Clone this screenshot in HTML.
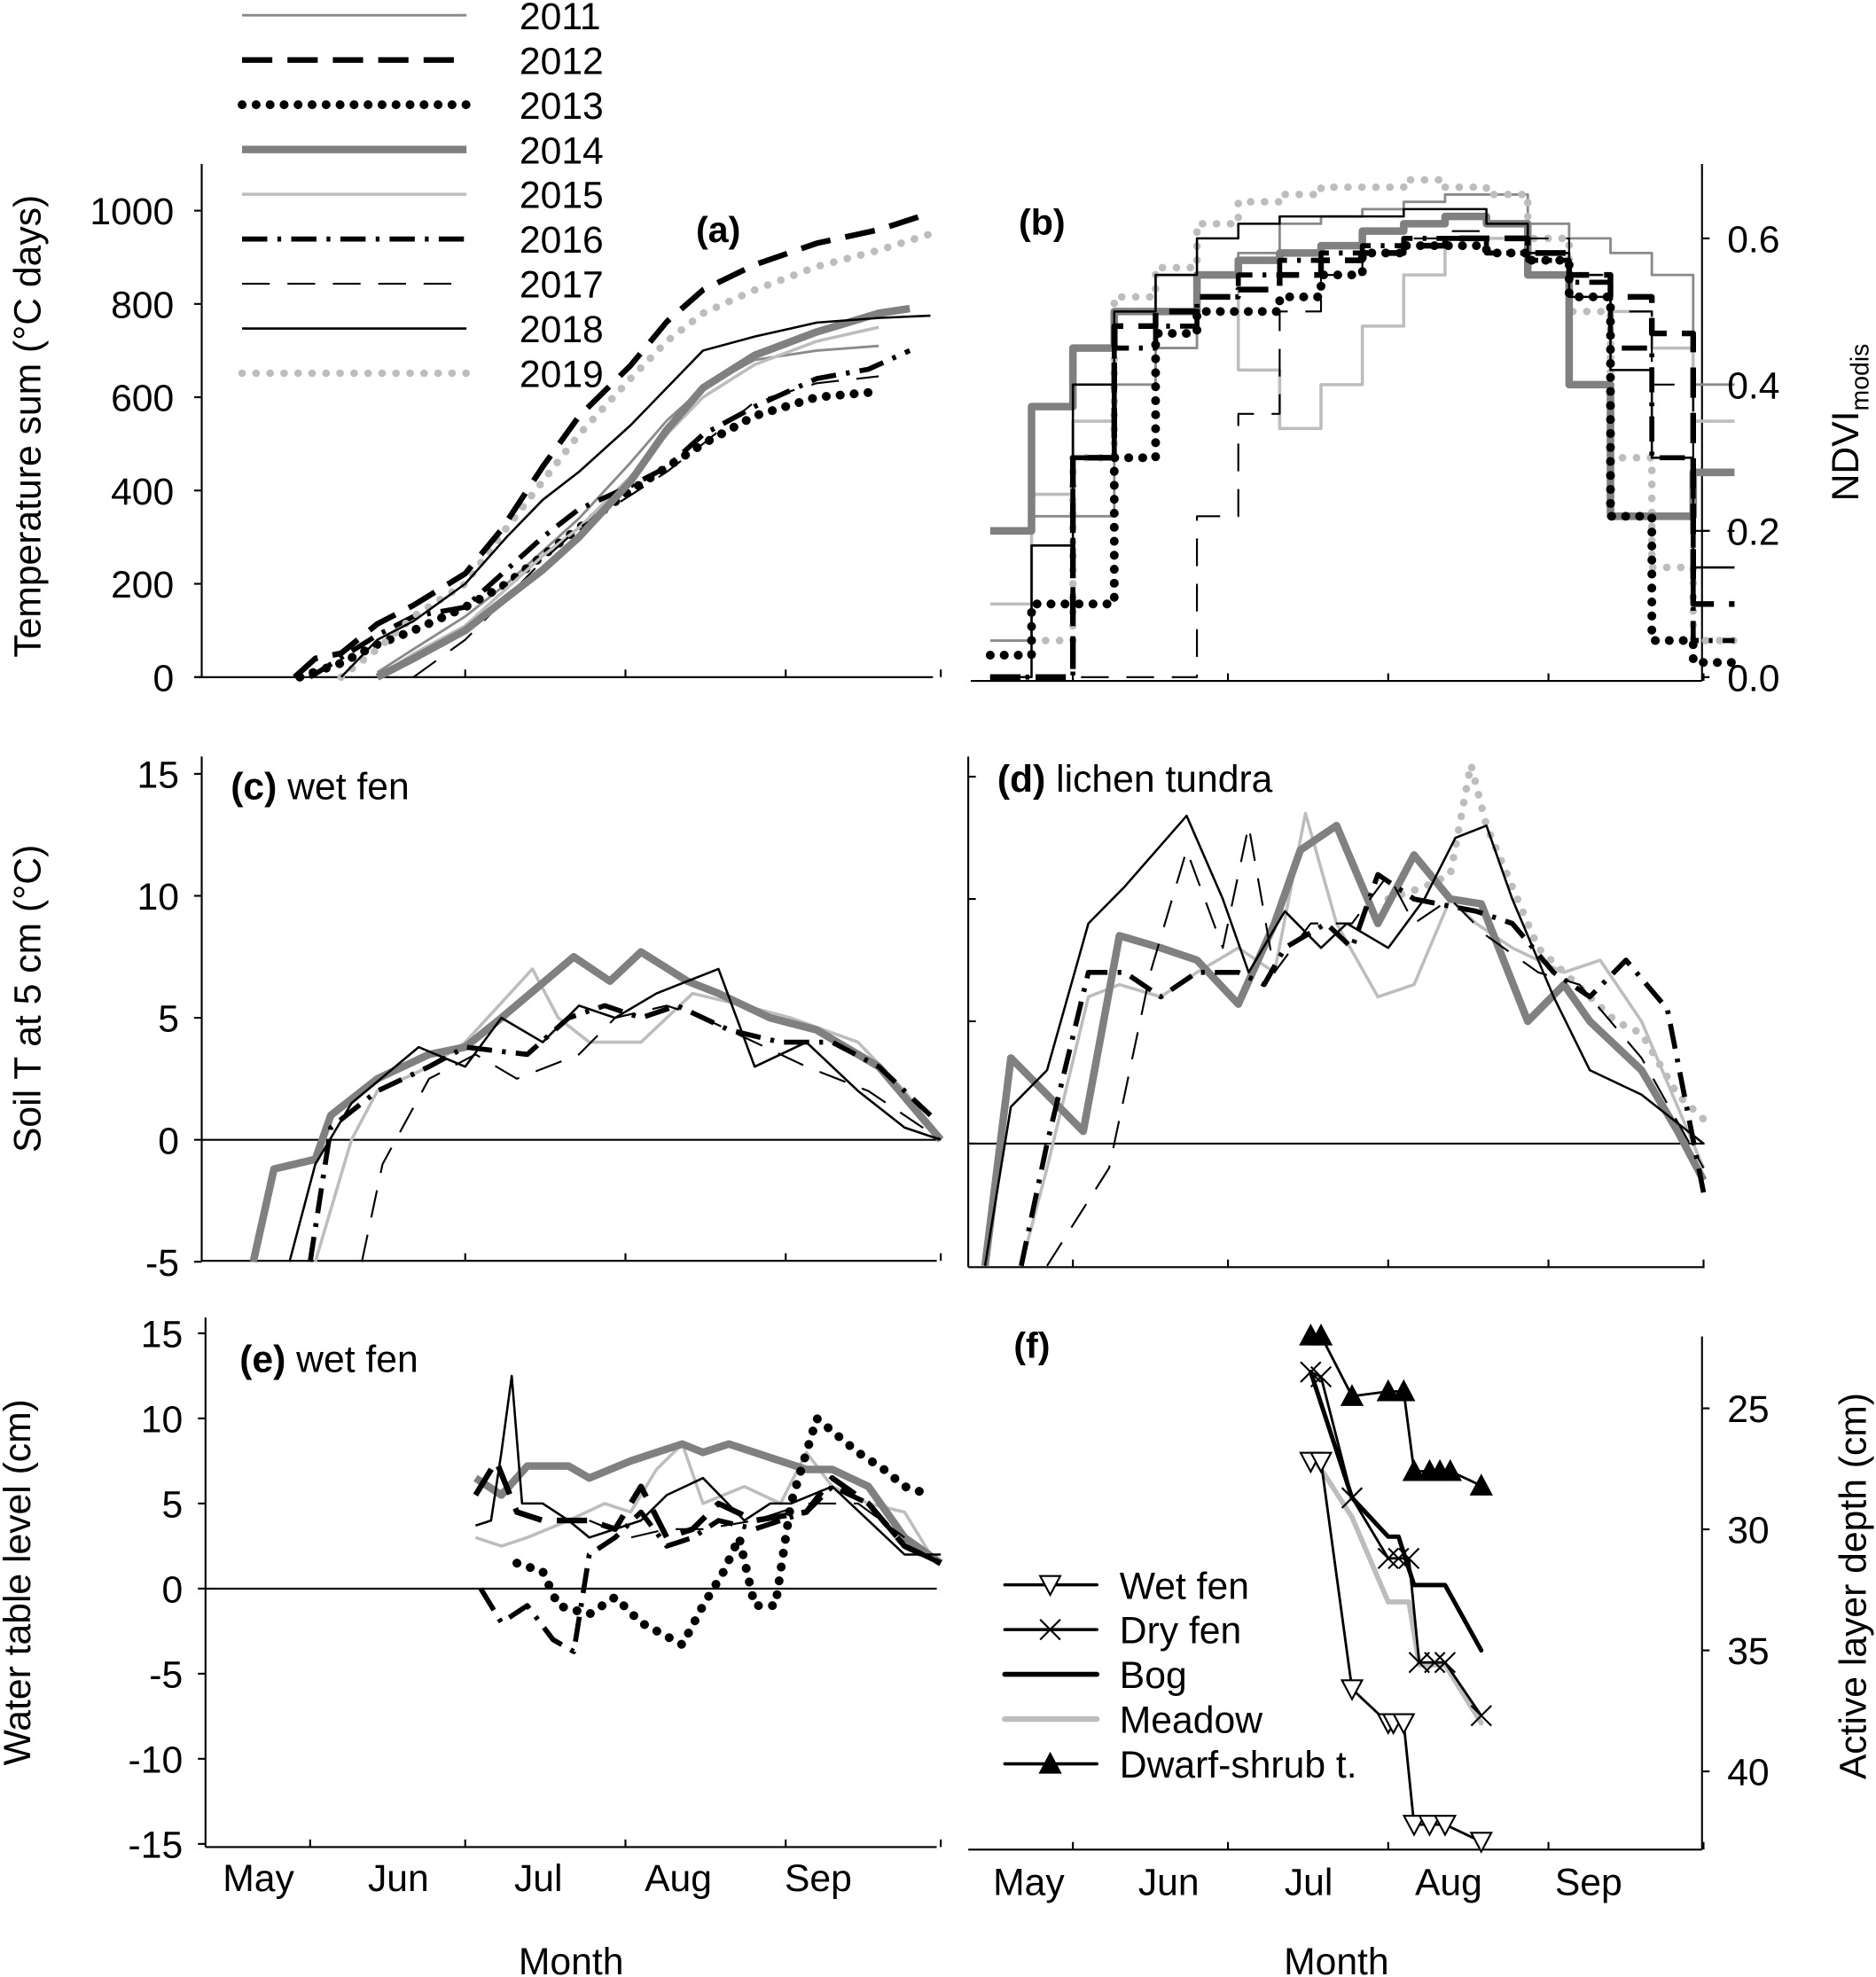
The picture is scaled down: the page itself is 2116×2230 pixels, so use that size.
<!DOCTYPE html>
<html><head><meta charset="utf-8"><style>
html,body{margin:0;padding:0;background:#fff}
svg{display:block}
text{font-family:"Liberation Sans",Arial,sans-serif;fill:#000}
</style></head><body>
<svg id="chart" width="2116" height="2230" viewBox="0 0 1488 1568" xmlns="http://www.w3.org/2000/svg">
<rect width="1488" height="1568" fill="#fff"/>
<g id="axes" stroke="#000" stroke-width="1.5" fill="none"></g>
<g id="series"></g>
<g id="labels" font-size="30">
<text x="552" y="192" font-weight="bold" font-size="29">(a)</text>
<text x="808" y="186" font-weight="bold" font-size="29">(b)</text>
<text x="183" y="634"><tspan font-weight="bold">(c)</tspan> wet fen</text>
<text x="791" y="628"><tspan font-weight="bold">(d)</tspan> lichen tundra</text>
<text x="190" y="1088"><tspan font-weight="bold">(e)</tspan> wet fen</text>
<text x="804" y="1077" font-weight="bold" font-size="29">(f)</text>
<text transform="translate(32,338) rotate(-90)" text-anchor="middle">Temperature sum (°C days)</text>
<text transform="translate(1474,335) rotate(-90)" text-anchor="middle">NDVI<tspan font-size="20" dy="8">modis</tspan></text>
<text transform="translate(32,792) rotate(-90)" text-anchor="middle">Soil T at 5 cm (°C)</text>
<text transform="translate(24,1255) rotate(-90)" text-anchor="middle">Water table level (cm)</text>
<text transform="translate(1480,1258) rotate(-90)" text-anchor="middle">Active layer depth (cm)</text>
<text x="453" y="1566" text-anchor="middle">Month</text>
<text x="1060" y="1566" text-anchor="middle">Month</text>
</g>
</svg>
<script>
// ---------- data ----------
const monthLabels=["May","Jun","Jul","Aug","Sep"];
const monthStartDays=[121,152,182,213,244,274];
const yearNames=["2011","2012","2013","2014","2015","2016","2017","2018","2019"];
const ticksA=[0,200,400,600,800,1000];
const ticksB=[0.0,0.2,0.4,0.6];
const ticksC=[-5,0,5,10,15];
const ticksE=[-15,-10,-5,0,5,10,15];
const ticksF=[25,30,35,40];
// panel a temperature sums
const a2011Days=[165,172,182,190,197,204,214,221,228,238,250,262];
const a2011Vals=[10,60,130,200,270,340,460,550,620,680,700,710];
const a2012Days=[149,153,158,165,172,182,189,197,204,214,221,228,238,250,262,272];
const a2012Vals=[0,40,51,114,154,222,316,451,559,668,762,830,884,930,959,995];
const a2013Days=[150,158,165,172,182,190,197,204,214,221,228,238,250,260];
const a2013Vals=[0,30,70,100,150,200,260,320,400,450,500,560,600,610];
const a2014Days=[165,172,182,190,197,204,214,221,228,238,250,262,268];
const a2014Vals=[0,40,100,170,230,300,420,530,620,690,740,780,790];
const a2015Days=[165,172,182,190,197,204,214,221,228,238,250,262];
const a2015Vals=[0,50,110,190,260,320,430,520,600,670,720,750];
const a2016Days=[152,165,172,182,190,197,204,214,221,228,238,250,260,268];
const a2016Vals=[0,90,130,150,230,300,360,410,450,520,580,640,660,700];
const a2017Days=[172,182,190,197,204,214,221,228,238,250,262];
const a2017Vals=[0,80,170,250,320,390,440,500,590,630,645];
const a2018Days=[158,165,172,182,190,197,204,214,221,228,238,250,262,272];
const a2018Vals=[0,80,120,200,300,380,440,540,620,700,730,760,770,775];
const a2019Days=[158,165,172,182,190,197,204,214,221,228,238,250,262,272];
const a2019Vals=[0,60,130,200,320,420,520,640,720,780,830,880,915,950];
// panel b NDVI 8-day composites
const bDays=[136,144,152,160,168,176,184,192,200,208,216,224,232,240,248,256,264,272];
const b2011=[0.05,0.22,0.22,0.40,0.45,0.55,0.58,0.62,0.63,0.64,0.65,0.66,0.66,0.62,0.60,0.58,0.55,0.40];
const b2012=[0,0,0.30,0.48,0.50,0.52,0.53,0.55,0.57,0.58,0.59,0.60,0.60,0.58,0.55,0.52,0.47,0.10];
const b2013=[0.03,0.10,0.10,0.30,0.47,0.50,0.50,0.52,0.55,0.58,0.59,0.59,0.58,0.57,0.52,0.22,0.05,0.02];
const b2014=[0.20,0.37,0.45,0.50,0.50,0.55,0.57,0.58,0.59,0.61,0.62,0.63,0.62,0.55,0.40,0.22,0.22,0.28];
const b2015=[0.10,0.25,0.35,0.50,0.55,0.55,0.42,0.34,0.40,0.48,0.55,0.60,0.60,0.58,0.55,0.50,0.45,0.35];
const b2016=[0,0,0.30,0.45,0.48,0.52,0.55,0.57,0.58,0.59,0.60,0.60,0.58,0.57,0.54,0.45,0.30,0.05];
const b2017=[0,0,0,0,0,0.22,0.36,0.50,0.55,0.58,0.60,0.61,0.62,0.60,0.55,0.50,0.40,0.20];
const b2018=[0,0.18,0.40,0.50,0.55,0.60,0.62,0.63,0.63,0.63,0.64,0.64,0.62,0.58,0.52,0.42,0.30,0.15];
const b2019=[0.03,0.05,0.30,0.52,0.56,0.62,0.65,0.66,0.67,0.67,0.68,0.67,0.66,0.60,0.50,0.30,0.15,0.05];
// panel c soil T wet fen
const c2014Days=[141,145,153,156,165,175,182,189,203,210,216,225,231,241,250,262,270,274];
const c2014Vals=[-5,-1.2,-0.8,1,2.5,3.5,3.8,5,7.5,6.5,7.7,6.5,6,5,4.5,3,1,0];
const c2018Days=[148,153,160,173,182,189,197,204,211,219,231,238,248,258,267,274];
const c2018Vals=[-5,-1,1.5,3.8,3,5,4,5.5,5,6,7,3,4,2,0.5,0];
const c2016Days=[152,156,165,175,182,194,202,209,216,223,233,243,253,262,272];
const c2016Vals=[-5,0.5,2,3,3.8,3.5,5,5.5,5,5.5,4.5,4,4,3,1];
const c2015Days=[153,160,165,175,182,195,200,206,216,226,236,245,258,267,274];
const c2015Vals=[-5,0,2,3,4,7,5,4,4,6,5.5,5,4,2,0];
const c2017Days=[162,166,175,184,192,204,211,221,228,238,248,260,274];
const c2017Vals=[-5,-1,2.5,3.5,2.5,3.5,5,5.5,5,4,3,2,0];
// panel d soil T lichen tundra
const d2014Days=[135,140,154,161,169,176,184,191,196,203,211,218,225,231,240,247,252,262,269,274];
const d2014Vals=[-5,3.5,0.5,8.5,8,7.5,5.7,9,12,13,9,11.8,10,9.8,5,6.5,5,3,0.5,-1.5];
const d2018Days=[135,140,147,155,162,174,181,186,193,200,205,213,220,226,232,237,245,252,262,274];
const d2018Vals=[-5,1.5,3,9,10.5,13.4,10,7,9.5,8,9,8,10,12.5,13,10,6,3,2,0];
const d2016Days=[142,147,155,162,169,176,184,189,193,201,206,211,218,225,230,237,245,252,259,267,274];
const d2016Vals=[-5,0,7,7,6,7,7,6.5,8,9,8,11,10,9.7,9.5,9,7,6,7.5,5.5,-2];
const d2017Days=[147,159,167,174,181,186,191,198,206,213,218,225,232,242,250,252,262,274];
const d2017Vals=[-5,-1,7,12,8,13,7,9,9,11,9,10,8.5,7,6.5,6,3.5,-1];
const d2015Days=[142,147,155,161,169,176,184,191,197,203,211,218,225,230,237,247,254,262,274];
const d2015Vals=[-5,-1,6,6.5,6,7,8,7,13.5,9,6,6.5,10,9,8,7,7.5,5,-1];
const d2019Days=[213,220,225,229,232,237,242,247,252,257,262,269,274];
const d2019Vals=[10,10.5,11,15.5,13,10.5,8,7,6,5,4.5,2,1];
// panel e water table
const e2014Days=[184,189,194,202,206,214,219,224,228,233,238,243,248,253,260,267,274];
const e2014Vals=[6.5,5.5,7.2,7.2,6.5,7.5,8,8.5,8,8.5,8,7.5,7,7,6,3,1.5];
const e2018Days=[184,187,189,191,193,197,202,206,211,216,221,228,236,241,245,253,260,267,274];
const e2018Vals=[3.7,4,8,12.5,5,5,4,3,3.5,4,5.5,6.5,4,5,5,6,4,2,2];
const e2012Days=[184,188,192,197,202,206,211,216,221,226,231,238,248,253,260,267,274];
const e2012Vals=[5.5,7.5,4.5,4,4,4,3.5,6,3,3.5,5,4,4.5,6.5,5,2.5,1.5];
const e2016Days=[185,189,194,199,203,206,211,216,221,226,231,238,248,253,260,267,274];
const e2016Vals=[0,-2,-1,-3,-3.7,2,3,4.5,2.5,3,4,3.5,4.5,6,5,2.5,1.5];
const e2013Days=[192,197,200,206,211,216,224,228,232,235,238,242,245,250,258,263,267,272];
const e2013Vals=[1.5,1,-1,-1.5,-0.5,-2,-3.3,-1,1,3,-1,-1,5,10,8,7,6,5.5];
const e2015Days=[184,189,194,202,209,214,219,224,228,236,243,248,253,260,267,272];
const e2015Vals=[3,2.5,3,4,5,4.5,7,8.5,5,6,5,8,6,5,4.5,2];
const e2017Days=[206,214,221,228,238,248,258,267];
const e2017Vals=[4,3,3.5,3.5,4,5,5,3];
// panel f active layer depth
const siteNames=["Wet fen","Dry fen","Bog","Meadow","Dwarf-shrub t."];
const fWetDays=[198,200,206,213,214,216,218,221,224,231];
const fWetVals=[27.2,27.2,36.6,38,38,38,42.2,42.2,42.2,42.9];
const fDryDays=[198,200,206,213,215,217,219,222,224,231];
const fDryVals=[23.5,23.7,28.7,31.2,31.2,31.2,35.5,35.5,35.5,37.7];
const fBogDays=[198,206,213,215,218,224,231];
const fBogVals=[23.5,28.7,30.3,30.3,32.3,32.3,35];
const fMeadowDays=[198,200,206,213,217,219,224,231];
const fMeadowVals=[27,27.5,29.5,33,33,35.6,35.6,38];
const fShrubDays=[198,200,206,213,216,218,221,223,225,231];
const fShrubVals=[22,22,24.5,24.3,24.3,27.6,27.6,27.6,27.6,28.2];

// ---------- scales ----------
const xL=d=>246+(d-152)*4.1;
const xR=d=>851+(d-152)*4.1;
const yA=v=>537-v*0.37;
const yB=v=>537-v*580;
const yC=v=>904-v*19.35;
const yD=v=>907-v*19.4;
const yE=v=>1260-v*13.5;
const yF=v=>1117+(v-25)*19.2;

const NS="http://www.w3.org/2000/svg";
const axes=document.getElementById('axes');
const ser=document.getElementById('series');
const lab=document.getElementById('labels');
const styles={
 "2011":{s:"#8a8a8a",w:2,d:""},
 "2012":{s:"#000",w:4.5,d:"24,12"},
 "2013":{s:"#000",w:7,d:"0.1,11",c:"round"},
 "2014":{s:"#808080",w:6,d:""},
 "2015":{s:"#bdbdbd",w:2.5,d:""},
 "2016":{s:"#000",w:4,d:"20,8,3,8"},
 "2017":{s:"#000",w:1.5,d:"22,14"},
 "2018":{s:"#000",w:1.8,d:""},
 "2019":{s:"#bdbdbd",w:6,d:"0.1,11",c:"round"}
};
function mk(tag,parent){const e=document.createElementNS(NS,tag);parent.appendChild(e);return e;}
function line(x1,y1,x2,y2,name){
 const l=mk('line',axes);
 l.setAttribute('x1',x1);l.setAttribute('y1',y1);l.setAttribute('x2',x2);l.setAttribute('y2',y2);
 
 
 return l;
}
function txt(x,y,s,anchor,name,size){
 const t=mk('text',lab);
 t.setAttribute('x',x);t.setAttribute('y',y);t.setAttribute('text-anchor',anchor);
 if(size)t.setAttribute('font-size',size);
 t.textContent=s;
 
 
}
function applyStyle(p,year){
 const st=styles[year];
 p.setAttribute('fill','none');p.setAttribute('stroke',st.s);p.setAttribute('stroke-width',st.w);
 if(st.d)p.setAttribute('stroke-dasharray',st.d);
 p.setAttribute('stroke-linecap',st.c||'butt');p.setAttribute('stroke-linejoin','round');
}
function series(days,vals,xs,ys,year,name){
 const p=mk('path',ser);
 p.setAttribute('d',days.map((d,i)=>(i?'L':'M')+xs(d).toFixed(1)+','+ys(vals[i]).toFixed(1)).join(''));
 applyStyle(p,year);
 
 
 return p;
}
function stepSeries(days,vals,xs,ys,year,name){
 let s='';
 days.forEach((d,i)=>{const x0=xs(d),x1=xs(d+8),y=ys(vals[i]);s+=(i?'L':'M')+x0.toFixed(1)+','+y.toFixed(1)+'L'+x1.toFixed(1)+','+y.toFixed(1);});
 const p=mk('path',ser);
 p.setAttribute('d',s);
 applyStyle(p,year);
 
 
}

// ---------- axes ----------
line(160,130,160,537,'panel-a-y-axis');line(155,537,740,537,'panel-a-x-axis');
ticksA.forEach(v=>{line(154,yA(v),160,yA(v),'panel-a-y-tick');txt(138,yA(v)+11,String(v),'end','panel-a-y-tick-label');});
line(1350,130,1350,540,'panel-b-y-axis');line(770,540,1350,540,'panel-b-x-axis');
ticksB.forEach(v=>{line(1350,yB(v),1356,yB(v),'panel-b-y-tick');txt(1370,yB(v)+11,v.toFixed(1),'start','panel-b-y-tick-label');});
line(160,600,160,1000,'panel-c-y-axis');line(160,1000,743,1000,'panel-c-x-axis');line(160,904,743,904,'panel-c-zero-line');
ticksC.forEach(v=>{line(154,yC(v),160,yC(v),'panel-c-y-tick');txt(142,yC(v)+11,String(v),'end','panel-c-y-tick-label');});
line(768,600,768,1005,'panel-d-y-axis');line(768,1005,1352,1005,'panel-d-x-axis');line(768,907,1352,907,'panel-d-zero-line');
ticksC.slice(1).forEach(v=>{line(768,yD(v),774,yD(v),'panel-d-y-tick');});
line(163,1045,163,1465,'panel-e-y-axis');line(163,1465,743,1465,'panel-e-x-axis');line(163,1260,743,1260,'panel-e-zero-line');
ticksE.forEach(v=>{line(157,yE(v),163,yE(v),'panel-e-y-tick');txt(145,yE(v)+11,String(v),'end','panel-e-y-tick-label');});
line(1350,1060,1350,1467,'panel-f-y-axis');line(768,1467,1350,1467,'panel-f-x-axis');
ticksF.forEach(v=>{line(1350,yF(v),1356,yF(v),'panel-f-y-tick');txt(1370,yF(v)+11,String(v),'start','panel-f-y-tick-label');});
monthStartDays.slice(1).forEach(d=>{
 line(xL(d),537,xL(d),531,'panel-a-month-tick');line(xR(d),540,xR(d),534,'panel-b-month-tick');
 line(xL(d),1000,xL(d),994,'panel-c-month-tick');line(xR(d),1005,xR(d),999,'panel-d-month-tick');
 line(xL(d),1465,xL(d),1459,'panel-e-month-tick');line(xR(d),1467,xR(d),1461,'panel-f-month-tick');
});
monthLabels.forEach((m,i)=>{
 txt(205+i*111,1500,m,'middle','left-month-label');
 txt(816+i*111,1503,m,'middle','right-month-label');
});

// ---------- series ----------
series(a2011Days,a2011Vals,xL,yA,"2011","a-series-2011");
series(a2013Days,a2013Vals,xL,yA,"2013","a-series-2013");
series(a2015Days,a2015Vals,xL,yA,"2015","a-series-2015");
series(a2016Days,a2016Vals,xL,yA,"2016","a-series-2016");
series(a2017Days,a2017Vals,xL,yA,"2017","a-series-2017");
series(a2014Days,a2014Vals,xL,yA,"2014","a-series-2014");
series(a2019Days,a2019Vals,xL,yA,"2019","a-series-2019");
series(a2012Days,a2012Vals,xL,yA,"2012","a-series-2012");
series(a2018Days,a2018Vals,xL,yA,"2018","a-series-2018");

stepSeries(bDays,b2011,xR,yB,"2011","b-series-2011");
stepSeries(bDays,b2015,xR,yB,"2015","b-series-2015");
stepSeries(bDays,b2019,xR,yB,"2019","b-series-2019");
stepSeries(bDays,b2014,xR,yB,"2014","b-series-2014");
stepSeries(bDays,b2012,xR,yB,"2012","b-series-2012");
stepSeries(bDays,b2013,xR,yB,"2013","b-series-2013");
stepSeries(bDays,b2016,xR,yB,"2016","b-series-2016");
stepSeries(bDays,b2017,xR,yB,"2017","b-series-2017");
stepSeries(bDays,b2018,xR,yB,"2018","b-series-2018");

series(c2015Days,c2015Vals,xL,yC,"2015","c-series-2015");
series(c2014Days,c2014Vals,xL,yC,"2014","c-series-2014");
series(c2016Days,c2016Vals,xL,yC,"2016","c-series-2016");
series(c2017Days,c2017Vals,xL,yC,"2017","c-series-2017");
series(c2018Days,c2018Vals,xL,yC,"2018","c-series-2018");

series(d2015Days,d2015Vals,xR,yD,"2015","d-series-2015");
series(d2019Days,d2019Vals,xR,yD,"2019","d-series-2019");
series(d2014Days,d2014Vals,xR,yD,"2014","d-series-2014");
series(d2016Days,d2016Vals,xR,yD,"2016","d-series-2016");
series(d2017Days,d2017Vals,xR,yD,"2017","d-series-2017");
series(d2018Days,d2018Vals,xR,yD,"2018","d-series-2018");

series(e2015Days,e2015Vals,xL,yE,"2015","e-series-2015");
series(e2014Days,e2014Vals,xL,yE,"2014","e-series-2014");
series(e2017Days,e2017Vals,xL,yE,"2017","e-series-2017");
series(e2012Days,e2012Vals,xL,yE,"2012","e-series-2012");
series(e2016Days,e2016Vals,xL,yE,"2016","e-series-2016");
series(e2013Days,e2013Vals,xL,yE,"2013","e-series-2013");
series(e2018Days,e2018Vals,xL,yE,"2018","e-series-2018");

function fLine(days,vals,stroke,w,name){
 const p=mk('path',ser);
 p.setAttribute('d',days.map((d,i)=>(i?'L':'M')+xR(d).toFixed(1)+','+yF(vals[i]).toFixed(1)).join(''));
 p.setAttribute('fill','none');p.setAttribute('stroke',stroke);p.setAttribute('stroke-width',w);p.setAttribute('stroke-linejoin','round');p.setAttribute('stroke-linecap','round');
 
 
}
function marker(kind,x,y,name){
 const p=mk('path',ser);
 let d;
 if(kind==='down')d=`M${x-8},${y-7}L${x+8},${y-7}L${x},${y+8}Z`;
 else if(kind==='up')d=`M${x-8},${y+7}L${x+8},${y+7}L${x},${y-8}Z`;
 else d=`M${x-8},${y-8}L${x+8},${y+8}M${x-8},${y+8}L${x+8},${y-8}`;
 p.setAttribute('d',d);
 p.setAttribute('fill',kind==='up'?'#000':(kind==='down'?'#fff':'none'));
 p.setAttribute('stroke','#000');p.setAttribute('stroke-width',1.5);
 
 
}
fLine(fMeadowDays,fMeadowVals,'#bdbdbd',4,'f-series-meadow');
fLine(fBogDays,fBogVals,'#000',3.5,'f-series-bog');
fLine(fWetDays,fWetVals,'#000',2,'f-series-wet-fen');
fLine(fDryDays,fDryVals,'#000',2,'f-series-dry-fen');
fLine(fShrubDays,fShrubVals,'#000',2,'f-series-dwarf-shrub');
fWetDays.forEach((d,i)=>marker('down',xR(d),yF(fWetVals[i]),'f-marker-wet-fen'));
fDryDays.forEach((d,i)=>marker('x',xR(d),yF(fDryVals[i]),'f-marker-dry-fen'));
fShrubDays.forEach((d,i)=>marker('up',xR(d),yF(fShrubVals[i]),'f-marker-dwarf-shrub'));

// ---------- legends ----------
yearNames.forEach((y,i)=>{
 const yy=12+i*35.5;
 const p=mk('path',ser);
 p.setAttribute('d',`M192,${yy}L370,${yy}`);
 applyStyle(p,y);
 
 
 txt(412,yy+11,y,'start','legend-label-'+y);
});
const legKinds=['down','x',null,null,'up'];
const legStroke=['#000','#000','#000','#bdbdbd','#000'];
const legW=[2.5,2.5,4,4.5,2.5];
siteNames.forEach((s,i)=>{
 const yy=1257+i*35.5;
 const p=mk('path',ser);
 p.setAttribute('d',`M797,${yy}L870,${yy}`);
 p.setAttribute('stroke',legStroke[i]);p.setAttribute('stroke-width',legW[i]);p.setAttribute('stroke-linecap','round');
 
 
 if(legKinds[i])marker(legKinds[i],833,yy,'legend-marker-site');
 txt(888,yy+11,s,'start','legend-label-site');
});
</script>
</body></html>
